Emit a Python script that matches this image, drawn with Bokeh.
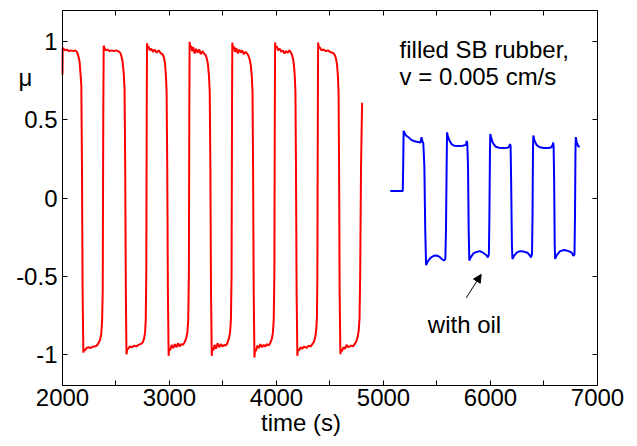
from bokeh.plotting import figure
from bokeh.models import (FixedTicker, LinearAxis, Label, Arrow, NormalHead, CustomLabelingPolicy)
from bokeh.embed import file_html
from bokeh.resources import INLINE

# ---- data ----
x_ticks = [2000, 3000, 4000, 5000, 6000, 7000]
x_tick_labels = ["2000", "3000", "4000", "5000", "6000", "7000"]
x_minor_ticks = [2500, 3500, 4500, 5500, 6500]
y_ticks = [-1, -0.5, 0, 0.5, 1]
y_tick_labels = ["-1", "-0.5", "0", "0.5", "1"]

red_t = [
    2000, 2002, 2010, 2025, 2040, 2060, 2080, 2100, 2120, 2135, 2150, 2160, 2168, 2176, 2182, 2188, 2195,
    2200, 2210, 2225, 2245, 2265, 2285, 2305, 2320, 2335, 2350, 2362, 2370, 2376, 2381, 2385,
    2392, 2405, 2420, 2440, 2460, 2480, 2500, 2520, 2540, 2552, 2562, 2572, 2580, 2586, 2592, 2598,
    2604, 2615, 2630, 2650, 2670, 2690, 2710, 2730, 2750, 2762, 2772, 2778, 2783, 2787, 2790,
    2797, 2805, 2815, 2830, 2845, 2860, 2880, 2900, 2920, 2935, 2948, 2958, 2966, 2973, 2979, 2985, 2992,
    2997, 3007, 3020, 3035, 3050, 3065, 3080, 3095, 3110, 3125, 3140, 3155, 3167, 3175, 3181, 3185, 3188,
    3195, 3203, 3212, 3222, 3235, 3248, 3262, 3278, 3292, 3308, 3322, 3338, 3350, 3360, 3368, 3376, 3382, 3388, 3395,
    3400, 3410, 3422, 3435, 3450, 3465, 3480, 3495, 3510, 3525, 3540, 3555, 3566, 3574, 3580, 3584, 3587,
    3594, 3602, 3612, 3624, 3638, 3652, 3666, 3680, 3695, 3710, 3725, 3738, 3750, 3760, 3768, 3776, 3781, 3787, 3794,
    3799, 3809, 3820, 3835, 3850, 3865, 3880, 3895, 3910, 3925, 3940, 3955, 3966, 3974, 3980, 3984, 3987,
    3994, 4004, 4015, 4030, 4045, 4060, 4075, 4090, 4105, 4120, 4135, 4145, 4155, 4163, 4170, 4177, 4182, 4188, 4195,
    4200, 4212, 4225, 4240, 4260, 4280, 4300, 4320, 4335, 4350, 4362, 4372, 4378, 4382, 4386, 4389,
    4396, 4405, 4420, 4440, 4460, 4480, 4500, 4520, 4535, 4548, 4558, 4566, 4573, 4580, 4585, 4590, 4597,
    4602, 4612, 4625, 4640, 4655, 4670, 4685, 4700, 4715, 4730, 4745, 4758, 4768, 4776, 4782, 4790, 4800,
]
red_mu = [
    0.79, 0.96, 0.955, 0.945, 0.95, 0.94, 0.945, 0.94, 0.945, 0.935, 0.905, 0.87, 0.80, 0.72, 0.2, -0.6, -0.99,
    -0.97, -0.975, -0.96, -0.955, -0.96, -0.95, -0.95, -0.945, -0.93, -0.91, -0.87, -0.79, -0.6, 0.5, 0.975,
    0.96, 0.945, 0.95, 0.94, 0.945, 0.94, 0.945, 0.94, 0.93, 0.905, 0.87, 0.80, 0.70, 0.2, -0.6, -1.0,
    -0.97, -0.965, -0.95, -0.955, -0.945, -0.95, -0.94, -0.935, -0.925, -0.90, -0.86, -0.78, -0.5, 0.5, 0.99,
    0.96, 0.97, 0.945, 0.955, 0.935, 0.95, 0.93, 0.945, 0.925, 0.92, 0.90, 0.86, 0.79, 0.68, 0.2, -0.6, -1.01,
    -0.96, -0.975, -0.94, -0.96, -0.935, -0.955, -0.93, -0.95, -0.935, -0.94, -0.925, -0.90, -0.86, -0.78, -0.5, 0.5, 1.0,
    0.96, 0.975, 0.94, 0.965, 0.925, 0.955, 0.93, 0.95, 0.92, 0.94, 0.925, 0.915, 0.89, 0.85, 0.79, 0.68, 0.2, -0.6, -1.01,
    -0.96, -0.975, -0.94, -0.965, -0.93, -0.955, -0.935, -0.95, -0.94, -0.945, -0.93, -0.90, -0.86, -0.78, -0.5, 0.5, 0.995,
    0.955, 0.97, 0.935, 0.96, 0.925, 0.95, 0.93, 0.945, 0.92, 0.935, 0.925, 0.91, 0.885, 0.85, 0.79, 0.68, 0.2, -0.6, -1.02,
    -0.97, -0.98, -0.945, -0.96, -0.935, -0.955, -0.94, -0.95, -0.935, -0.945, -0.93, -0.905, -0.865, -0.78, -0.5, 0.5, 0.995,
    0.96, 0.97, 0.945, 0.955, 0.935, 0.945, 0.925, 0.94, 0.93, 0.945, 0.93, 0.915, 0.89, 0.85, 0.79, 0.68, 0.2, -0.6, -1.01,
    -0.97, -0.975, -0.955, -0.965, -0.95, -0.96, -0.945, -0.95, -0.935, -0.92, -0.89, -0.84, -0.76, -0.5, 0.5, 0.995,
    0.96, 0.965, 0.945, 0.95, 0.94, 0.945, 0.935, 0.93, 0.925, 0.91, 0.885, 0.85, 0.79, 0.68, 0.2, -0.6, -1.0,
    -0.97, -0.98, -0.955, -0.965, -0.94, -0.955, -0.95, -0.945, -0.95, -0.935, -0.92, -0.89, -0.85, -0.77, -0.5, 0.2, 0.61,
]

blue_t = [
    5063, 5180, 5184, 5188, 5195, 5210, 5236, 5260, 5283, 5310, 5346, 5355, 5360, 5372, 5382, 5390, 5398,
    5410, 5425, 5445, 5470, 5495, 5520, 5545, 5565, 5578, 5584, 5590, 5594,
    5600, 5615, 5635, 5660, 5700, 5740, 5770, 5778, 5783, 5790, 5796, 5802,
    5815, 5840, 5870, 5900, 5930, 5960, 5975, 5985, 5990, 5995, 5998,
    6005, 6020, 6045, 6080, 6120, 6160, 6175, 6183, 6188, 6193, 6200, 6205,
    6220, 6245, 6275, 6310, 6345, 6365, 6378, 6388, 6393, 6397, 6400,
    6410, 6430, 6460, 6500, 6540, 6570, 6580, 6586, 6590, 6595, 6600, 6604,
    6620, 6650, 6690, 6730, 6760, 6775, 6785, 6790, 6794, 6797, 6805, 6820, 6835,
]
blue_mu = [
    0.045, 0.045, 0.2, 0.43, 0.42, 0.40, 0.387, 0.372, 0.365, 0.36, 0.355, 0.39, 0.37, 0.35, 0.2, -0.2, -0.43,
    -0.41, -0.395, -0.38, -0.37, -0.368, -0.375, -0.39, -0.40, -0.39, -0.2, 0.2, 0.42,
    0.40, 0.37, 0.345, 0.335, 0.333, 0.335, 0.34, 0.365, 0.35, 0.2, -0.2, -0.40,
    -0.38, -0.355, -0.345, -0.34, -0.35, -0.365, -0.38, -0.36, -0.1, 0.3, 0.41,
    0.39, 0.355, 0.33, 0.322, 0.32, 0.322, 0.33, 0.345, 0.33, 0.1, -0.3, -0.39,
    -0.37, -0.35, -0.34, -0.343, -0.35, -0.365, -0.38, -0.36, -0.1, 0.3, 0.40,
    0.37, 0.34, 0.325, 0.32, 0.32, 0.325, 0.34, 0.355, 0.33, 0.1, -0.3, -0.39,
    -0.365, -0.34, -0.333, -0.34, -0.35, -0.37, -0.36, -0.1, 0.3, 0.39, 0.36, 0.33, 0.33,
]

FONT = "Liberation Sans"
FS = "24px"
X0, X1 = x_ticks[0], x_ticks[-1]

# the frame reaches further left than the axes box so that "μ" can sit beside the y axis
p = figure(frame_width=593, frame_height=375,
           x_range=(1458, 7000), y_range=(-1.2, 1.2),
           output_backend="svg", toolbar_location=None,
           min_border_left=4, min_border_right=33,
           min_border_top=10, min_border_bottom=59)
p.background_fill_color = "white"
p.border_fill_color = "white"
p.outline_line_color = None
p.xgrid.visible = False
p.ygrid.visible = False

hide_all = CustomLabelingPolicy(code="return new Set()")

def style_axis(ax, show_labels):
    ax.axis_line_color = "black"
    ax.axis_line_width = 1
    ax.major_tick_line_color = "black"
    ax.minor_tick_line_color = "black"
    ax.major_tick_in = 5
    ax.major_tick_out = 0
    ax.minor_tick_in = 5
    ax.minor_tick_out = 0
    ax.major_label_text_font = FONT
    ax.major_label_text_color = "black"
    if show_labels:
        ax.major_label_text_font_size = FS
    else:
        ax.major_label_text_font_size = "1px"
        ax.major_label_policy = hide_all
        ax.major_label_standoff = 0

xt = FixedTicker(ticks=x_ticks, minor_ticks=x_minor_ticks)
yt = FixedTicker(ticks=y_ticks, minor_ticks=[])

xa = p.xaxis[0]
ya = p.yaxis[0]
xa.ticker = xt
ya.ticker = yt
xa.bounds = (X0, X1)
ya.fixed_location = X0
xa.major_label_overrides = {t: l for t, l in zip(x_ticks, x_tick_labels)}
ya.major_label_overrides = {t: l for t, l in zip(y_ticks, y_tick_labels)}
style_axis(xa, True)
style_axis(ya, True)
xa.major_label_standoff = 3
ya.major_label_standoff = 5
xa.axis_label = "time (s)"
xa.axis_label_text_font = FONT
xa.axis_label_text_font_size = FS
xa.axis_label_text_font_style = "normal"
xa.axis_label_text_color = "black"
xa.axis_label_standoff = 0

top = LinearAxis(ticker=xt, bounds=(X0, X1))
style_axis(top, False)
p.add_layout(top, "above")
right = LinearAxis(ticker=yt)
style_axis(right, False)
p.add_layout(right, "right")

p.line(red_t, red_mu, line_color="#ff0000", line_width=2)
p.line(blue_t, blue_mu, line_color="#0000ff", line_width=2)

def lab(x, y, text):
    p.add_layout(Label(x=x, y=y, text=text, text_font=FONT, text_font_size=FS,
                       text_color="black", text_baseline="alphabetic", text_align="left"))

lab(5150, 0.95, "filled SB rubber,")
lab(5150, 0.776, "v = 0.005 cm/s")
lab(5414, -0.81, "with oil")
lab(1590, 0.77, "μ")

p.add_layout(Arrow(end=NormalHead(size=8, fill_color="black", line_color="black", line_width=1),
                   x_start=5773, y_start=-0.639, x_end=5913, y_end=-0.489,
                   line_color="black", line_width=1))

open("out.html", "w").write(file_html(p, INLINE))
